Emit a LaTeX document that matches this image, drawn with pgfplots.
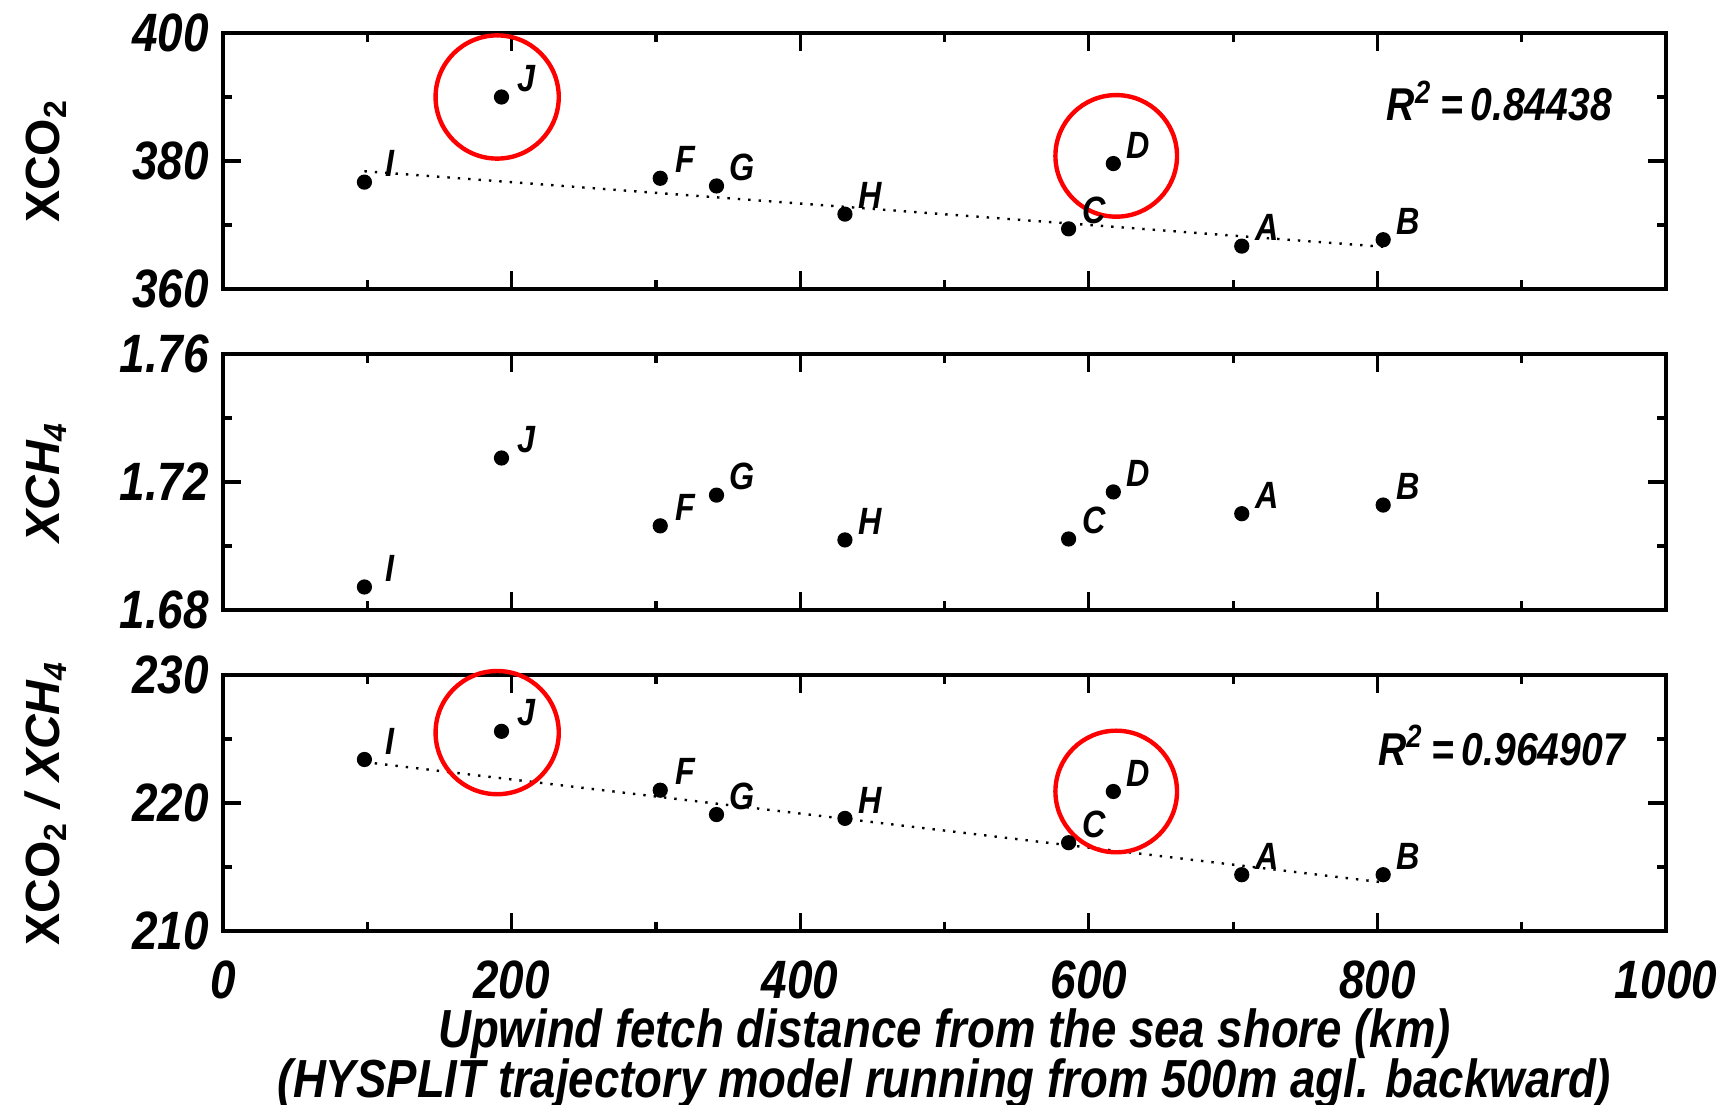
\documentclass[border=0pt]{standalone}
\usepackage{fontspec}
\setmainfont{Liberation Sans}
\newfontfamily\cond{Liberation Sans}[FakeStretch=0.85]
\usepackage{pgfplots}
\pgfplotsset{compat=1.18}

\pgfplotsset{
 panel/.style={
  scale only axis, width=360.75pt, height=64pt,
  xmin=0,xmax=1000,
  xtick={0,200,...,1000}, minor xtick={100,300,...,900},
  axis line style={line width=1.1pt},
  every tick/.style={black, line width=0.8pt},
  major tick length=4.4pt, minor tick length=2.2pt,
  tick align=inside,
  ticklabel style={font=\cond\bfseries\itshape\fontsize{13.5}{13.5}\selectfont},
  /pgf/number format/assume math mode=true,
  /pgf/number format/1000 sep={},
  ylabel style={font=\bfseries\fontsize{12}{12}\selectfont, at={(axis description cs:-0.1227,0.5)}, anchor=center},
  clip=false,
 },
 pts/.style={only marks, mark=*, mark size=1.7pt, black,
   nodes near coords, point meta=explicit symbolic,
   every node near coord/.style={font=\cond\bfseries\itshape\fontsize{9.5}{9.5}\selectfont, inner sep=0pt, anchor=center, xshift=6.3pt, yshift=4.6pt, black}},
 trend/.style={black, dotted, line width=0.6pt},
}
\tikzset{
 rtext/.style={anchor=west, inner sep=0pt, font=\cond\bfseries\itshape\fontsize{11.5}{11.5}\selectfont},
 ring/.style={red, line width=1.1pt},
}

\begin{document}
\begin{tikzpicture}
\path[use as bounding box] (0,0) rectangle (430.75pt,-276pt);

% Panel 1: XCO2
\begin{axis}[panel, at={(55.75pt,-72.25pt)}, anchor=south west,
  ymin=360, ymax=400, ytick={360,380,400}, minor ytick={370,390},
  xticklabels={},
  ylabel={XCO\textsubscript{2}}]
\addplot[pts] table[meta=lab] {
x y lab
98 376.7 I
193 390.0 J
303 377.3 F
342 376.1 G
431 371.7 H
586 369.4 C
617 379.6 D
706 366.7 A
804 367.7 B
};
\addplot[trend] coordinates {(98,378.4) (804,366.6)};
\node[rtext] at (axis cs:806,389.4) {R\textsuperscript{2}\,=\,0.84438};
\draw[ring] (axis cs:190,390.0) circle[radius=15.4pt];
\draw[ring] (axis cs:619,380.8) circle[radius=15.2pt];
\end{axis}

% Panel 2: XCH4
\begin{axis}[panel, at={(55.75pt,-152.5pt)}, anchor=south west,
  ymin=1.68, ymax=1.76, ytick={1.68,1.72,1.76}, minor ytick={1.70,1.74},
  yticklabel style={/pgf/number format/.cd, fixed, fixed zerofill, precision=2},
  xticklabels={},
  ylabel={\itshape XCH\textsubscript{4}}]
\addplot[pts] table[meta=lab] {
x y lab
98 1.6872 I
193 1.7275 J
303 1.7063 F
342 1.7159 G
431 1.7019 H
586 1.7022 C
617 1.7169 D
706 1.7101 A
804 1.7128 B
};
\end{axis}

% Panel 3: ratio
\begin{axis}[panel, at={(55.75pt,-232.75pt)}, anchor=south west,
  ymin=210, ymax=230, ytick={210,220,230}, minor ytick={215,225},
  ylabel={XCO\textsubscript{2} \itshape / XCH\textsubscript{4}},
  xlabel={Upwind fetch distance from the sea shore (km)\\(HYSPLIT trajectory model running from 500m agl. backward)},
  xlabel style={font=\cond\bfseries\itshape\fontsize{13.4}{12.6}\selectfont, align=center, at={(axis description cs:0.5,0)}, anchor=north, inner sep=0pt, yshift=-19.2pt},
  xticklabel style={yshift=-4pt}]
\addplot[pts] table[meta=lab] {
x y lab
98 223.4 I
193 225.6 J
303 221.0 F
342 219.1 G
431 218.8 H
586 216.9 C
617 220.9 D
706 214.4 A
804 214.4 B
};
\addplot[trend] coordinates {(98,223.2) (804,213.8)};
\node[rtext] at (axis cs:800,224.5) {R\textsuperscript{2}\,=\,0.964907};
\draw[ring] (axis cs:190,225.5) circle[radius=15.4pt];
\draw[ring] (axis cs:619,220.9) circle[radius=15.2pt];
\end{axis}
\end{tikzpicture}
\end{document}
